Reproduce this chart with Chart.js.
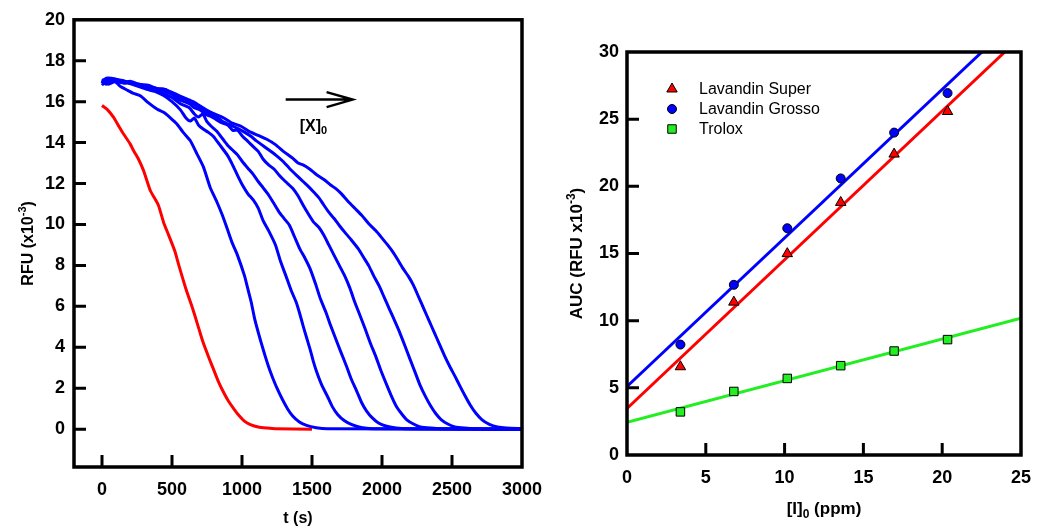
<!DOCTYPE html>
<html>
<head>
<meta charset="utf-8">
<script src="https://cdn.jsdelivr.net/npm/chart.js@4.4.1/dist/chart.umd.min.js"></script>
<style>
  html, body { margin: 0; padding: 0; background: #fff; }
  #wrap { position: relative; width: 1043px; height: 526px; overflow: hidden; }
  canvas { position: absolute; top: 0; }
  #kinetics { left: 0; }
  #auc { left: 540px; }
</style>
</head>
<body>
<div id="wrap">
  <canvas id="kinetics" width="560" height="526"></canvas>
  <canvas id="auc" width="503" height="526"></canvas>
</div>
<script>
// ---- fluorescence decay curves, t (s) vs RFU (x10^-3) ----
const timeTicks = [0, 500, 1000, 1500, 2000, 2500, 3000];
const rfuTicks = [0, 2, 4, 6, 8, 10, 12, 14, 16, 18, 20];

const blankCurve = [[0,15.81],[40,15.6],[83,15.23],[120,14.8],[154,14.42],[200,13.95],[226,13.6],[260,13.2],[297,12.63],[345,11.66],[402,10.95],[440,10.1],[476,9.48],[520,8.7],[549,8.0],[599,6.86],[648,5.88],[690,4.95],[722,4.24],[760,3.55],[796,2.93],[833,2.3],[870,1.78],[905,1.35],[944,0.97],[980,0.65],[1017,0.39],[1060,0.22],[1116,0.1],[1180,0.05],[1239,0.02],[1500,0]];

const sampleCurve1 = [[0,16.9],[20,17.1],[50,16.9],[90,17.0],[130,16.75],[178,16.57],[225,16.4],[273,16.29],[330,15.95],[392,15.64],[440,15.48],[490,15.2],[535,14.91],[580,14.5],[630,14.1],[678,13.45],[725,12.8],[772,11.82],[820,11.11],[860,10.45],[894,9.8],[930,9.1],[968,8.49],[1017,7.51],[1040,6.9],[1066,6.2],[1090,5.4],[1116,4.73],[1140,4.15],[1165,3.58],[1190,3.05],[1214,2.6],[1250,2.0],[1288,1.46],[1325,1.0],[1362,0.64],[1410,0.35],[1461,0.18],[1530,0.07],[1609,0.02],[3000,0]];

const sampleCurve2 = [[0,17.0],[30,16.85],[60,17.05],[130,16.95],[190,16.9],[254,16.76],[320,16.6],[377,16.5],[440,16.3],[500,16.0],[560,15.6],[600,15.2],[630,15.05],[660,15.2],[690,14.85],[725,14.65],[760,14.5],[796,14.3],[840,13.9],[894,13.4],[930,12.95],[968,12.4],[1005,11.9],[1042,11.5],[1080,11.2],[1116,10.8],[1150,10.2],[1190,9.7],[1239,9.0],[1275,8.2],[1313,7.5],[1350,6.8],[1387,6.2],[1410,5.7],[1436,5.06],[1460,4.5],[1486,3.91],[1510,3.3],[1535,2.77],[1570,2.15],[1609,1.62],[1645,1.1],[1683,0.72],[1730,0.42],[1781,0.23],[1850,0.08],[1929,0.02],[3000,0]];

const sampleCurve3 = [[0,17.1],[35,16.9],[70,17.1],[130,17.05],[190,16.95],[254,16.8],[320,16.75],[377,16.6],[440,16.4],[500,16.2],[560,15.9],[623,15.7],[660,15.4],[690,15.25],[720,15.4],[747,15.05],[780,14.8],[820,14.55],[860,14.2],[894,13.9],[930,13.65],[968,13.4],[1005,13.05],[1042,12.75],[1080,12.45],[1116,12.1],[1150,11.8],[1190,11.44],[1230,11.0],[1264,10.62],[1300,10.3],[1338,9.97],[1375,9.4],[1412,8.82],[1450,8.35],[1486,7.84],[1525,7.1],[1560,6.37],[1600,5.7],[1633,5.06],[1670,4.4],[1707,3.75],[1745,3.1],[1781,2.44],[1820,1.85],[1855,1.29],[1890,0.88],[1929,0.56],[1975,0.3],[2027,0.15],[2100,0.06],[2175,0.02],[3000,0]];

const sampleCurve4 = [[0,16.8],[40,17.1],[80,17.0],[140,17.05],[200,16.9],[265,16.85],[330,16.7],[390,16.65],[450,16.5],[500,16.35],[550,16.1],[623,15.9],[660,15.7],[700,15.6],[735,15.4],[770,15.3],[810,15.15],[845,15.0],[900,14.85],[935,14.6],[968,14.6],[1005,14.3],[1042,14.06],[1080,13.8],[1116,13.57],[1150,13.2],[1190,12.91],[1230,12.7],[1264,12.42],[1310,12.1],[1362,11.77],[1400,11.4],[1436,10.95],[1475,10.5],[1510,10.13],[1550,9.85],[1584,9.48],[1620,9.0],[1658,8.49],[1695,8.0],[1732,7.51],[1770,6.9],[1806,6.2],[1843,5.55],[1880,4.89],[1917,4.2],[1954,3.58],[1990,2.9],[2027,2.27],[2065,1.65],[2101,1.13],[2140,0.75],[2175,0.47],[2225,0.25],[2274,0.11],[2350,0.05],[2422,0.02],[3000,0]];

const sampleCurve5 = [[0,17.0],[45,16.85],[100,17.0],[160,16.9],[200,16.95],[265,16.8],[330,16.7],[390,16.6],[450,16.6],[500,16.4],[550,16.2],[600,16.1],[650,15.9],[710,15.65],[770,15.4],[820,15.25],[870,15.0],[920,14.85],[968,14.7],[1020,14.5],[1066,14.3],[1100,14.1],[1140,13.9],[1190,13.65],[1239,13.4],[1290,13.1],[1338,12.75],[1390,12.4],[1436,12.1],[1475,11.85],[1510,11.6],[1550,11.3],[1584,10.95],[1620,10.6],[1658,10.29],[1695,9.95],[1732,9.64],[1780,9.25],[1830,8.82],[1868,8.4],[1904,8.0],[1940,7.5],[1978,7.02],[2015,6.45],[2052,5.88],[2090,5.3],[2126,4.73],[2165,4.05],[2200,3.42],[2238,2.75],[2274,2.11],[2310,1.6],[2348,1.13],[2385,0.75],[2422,0.47],[2470,0.25],[2520,0.11],[2590,0.05],[2668,0.02],[3000,0]];

const sampleCurve6 = [[0,16.9],[30,17.15],[100,17.1],[160,16.95],[200,17.0],[265,16.85],[330,16.8],[390,16.65],[450,16.6],[500,16.45],[550,16.3],[600,16.15],[650,16.0],[710,15.75],[770,15.5],[820,15.35],[870,15.2],[930,14.95],[993,14.8],[1050,14.55],[1116,14.35],[1180,14.15],[1239,13.9],[1300,13.55],[1362,13.24],[1400,13.0],[1436,12.91],[1485,12.7],[1535,12.42],[1585,12.2],[1633,11.93],[1670,11.75],[1707,11.52],[1755,11.15],[1806,10.79],[1855,10.45],[1904,10.05],[1955,9.7],[2003,9.31],[2040,9.0],[2077,8.66],[2115,8.25],[2151,7.84],[2190,7.45],[2225,7.02],[2262,6.45],[2299,5.88],[2336,5.3],[2373,4.73],[2410,4.15],[2447,3.58],[2485,3.05],[2520,2.6],[2557,2.1],[2594,1.62],[2630,1.18],[2668,0.8],[2715,0.45],[2767,0.23],[2825,0.1],[2890,0.05],[3000,0.02]];

const sampleCurves = [sampleCurve1, sampleCurve2, sampleCurve3, sampleCurve4, sampleCurve5, sampleCurve6];

// ---- area under curve vs concentration ----
const concentrations = [3.39, 6.78, 10.17, 13.56, 16.95, 20.34];
const aucSuper = [6.57, 11.38, 14.99, 18.8, 22.4, 25.57];
const aucGrosso = [8.22, 12.67, 16.88, 20.59, 24.0, 26.94];
const aucTrolox = [3.21, 4.73, 5.70, 6.65, 7.74, 8.59];
// regression lines, drawn between their end points
const fitSuper = [[0, 3.46], [23.97, 30]];
const fitGrosso = [[0, 5.1], [22.52, 30]];
const fitTrolox = [[0, 2.44], [25, 10.18]];
const seriesNames = ['Lavandin Super', 'Lavandin Grosso', 'Trolox'];
const ppmTicks = [0, 5, 10, 15, 20, 25];
const aucTicks = [0, 5, 10, 15, 20, 25, 30];

const FONT = '"Liberation Sans", Arial, Helvetica, sans-serif';
const RED = '#ff0000';
const BLUE = '#0000ff';
const GREEN = '#22ee22';

const toXY = pts => pts.map(([x, y]) => ({ x, y }));

function fixedTicks(values) {
  return scale => { scale.ticks = values.map(v => ({ value: v })); };
}

function axis(min, max, ticks, size, pad, horizontal) {
  return {
    type: 'linear',
    min, max,
    afterBuildTicks: fixedTicks(ticks),
    afterFit: s => { if (horizontal) s.height = size; else s.width = size; },
    grid: { display: false, drawTicks: false },
    border: { display: false },
    ticks: {
      font: { family: FONT, size: 18, weight: 'bold' },
      color: '#000',
      padding: pad,
      maxRotation: 0,
      autoSkip: false,
      callback: v => String(v)
    }
  };
}

// text pieces with sub/superscripts, centred on (cx, cy)
function richText(ctx, parts, cx, cy, angle, size) {
  const small = Math.round(size * 0.68);
  ctx.save();
  ctx.translate(cx, cy);
  ctx.rotate(angle);
  ctx.fillStyle = '#000';
  ctx.textBaseline = 'alphabetic';
  const fontOf = p => `bold ${p.sup || p.sub ? small : size}px ${FONT}`;
  const widths = parts.map(p => { ctx.font = fontOf(p); return ctx.measureText(p.text).width; });
  let x = -widths.reduce((a, b) => a + b, 0) / 2;
  const base = size * 0.36;
  parts.forEach((p, i) => {
    ctx.font = fontOf(p);
    let dy = base;
    if (p.sup) dy = base - size * 0.42;
    if (p.sub) dy = base + size * 0.22;
    ctx.fillText(p.text, x, dy);
    x += widths[i];
  });
  ctx.restore();
}

// box round the plot with inward tick marks, plus axis titles
const framePlugin = {
  id: 'frame',
  afterDraw(chart, args, opts) {
    const { ctx, chartArea: a, scales: { x, y } } = chart;
    ctx.save();
    ctx.strokeStyle = '#000';
    ctx.lineWidth = 3;
    ctx.beginPath();
    opts.xMarks.forEach(v => {
      const px = x.getPixelForValue(v);
      ctx.moveTo(px, a.bottom);
      ctx.lineTo(px, a.bottom - 12);
    });
    opts.yMarks.forEach(v => {
      const py = y.getPixelForValue(v);
      ctx.moveTo(a.left, py);
      ctx.lineTo(a.left + 12, py);
    });
    ctx.stroke();
    ctx.lineWidth = 3.5;
    ctx.strokeRect(a.left, a.top, a.right - a.left, a.bottom - a.top);
    ctx.restore();
    const midX = (a.left + a.right) / 2;
    const midY = (a.top + a.bottom) / 2;
    richText(ctx, opts.xTitle, midX, opts.xTitleY, 0, opts.titleSize);
    richText(ctx, opts.yTitle, opts.yTitleX, midY, -Math.PI / 2, opts.titleSize);
  }
};

// arrow marking increasing concentration
const arrowPlugin = {
  id: 'arrow',
  afterDraw(chart, args, opts) {
    if (!opts.from) return;
    const { ctx, scales: { x, y } } = chart;
    const x0 = x.getPixelForValue(opts.from[0]);
    const y0 = y.getPixelForValue(opts.from[1]);
    const x1 = x.getPixelForValue(opts.to[0]);
    ctx.save();
    ctx.strokeStyle = '#000';
    ctx.lineWidth = 2.5;
    ctx.beginPath();
    ctx.moveTo(x0, y0);
    ctx.lineTo(x1, y0);
    ctx.moveTo(x1 - 26, y0 - 7.5);
    ctx.lineTo(x1, y0);
    ctx.lineTo(x1 - 26, y0 + 7.5);
    ctx.stroke();
    ctx.restore();
    const tx = x.getPixelForValue(opts.label[0]);
    const ty = y.getPixelForValue(opts.label[1]);
    richText(ctx, [{ text: '[X]' }, { text: '0', sub: true }], tx, ty, 0, 16);
  }
};

// legend set inside the plot area
const keyPlugin = {
  id: 'key',
  afterDraw(chart, args, opts) {
    if (!opts.entries) return;
    const { ctx, chartArea: a } = chart;
    ctx.save();
    opts.entries.forEach((e, i) => {
      const ds = chart.data.datasets[e];
      const mx = a.left + opts.dx;
      const my = a.top + opts.dy + i * opts.step;
      ctx.fillStyle = ds.pointBackgroundColor;
      ctx.strokeStyle = '#000';
      ctx.lineWidth = 1;
      Chart.helpers.drawPoint(ctx, { pointStyle: ds.pointStyle, radius: ds.pointRadius, rotation: 0, borderWidth: 1 }, mx, my);
      ctx.fillStyle = '#000';
      ctx.font = `16px ${FONT}`;
      ctx.textBaseline = 'middle';
      ctx.fillText(ds.label, mx + 27, my + 1);
    });
    ctx.restore();
  }
};

Chart.register(framePlugin, arrowPlugin, keyPlugin);

const curveDatasets = sampleCurves.map((c, i) => ({
  label: 'sample ' + (i + 1),
  data: toXY(c),
  borderColor: BLUE,
  borderWidth: 3,
  pointRadius: 0,
  showLine: true,
  tension: 0.2,
  order: 0
}));
curveDatasets.push({
  label: 'blank',
  data: toXY(blankCurve),
  borderColor: RED,
  borderWidth: 3,
  pointRadius: 0,
  showLine: true,
  tension: 0.2,
  order: 1
});

new Chart(document.getElementById('kinetics'), {
  type: 'scatter',
  data: { datasets: curveDatasets },
  options: {
    responsive: false,
    animation: false,
    devicePixelRatio: 1,
    layout: { padding: { top: 19, right: 38, left: 0, bottom: 0 } },
    scales: {
      x: axis(-200, 3000, timeTicks, 59, 12, true),
      y: axis(-1.85, 20, rfuTicks, 74, 9, false)
    },
    plugins: {
      legend: { display: false },
      tooltip: { enabled: false },
      frame: {
        xMarks: [0, 500, 1000, 1500, 2000, 2500],
        yMarks: [0, 2, 4, 6, 8, 10, 12, 14, 16, 18],
        xTitle: [{ text: 't (s)' }],
        xTitleY: 517,
        yTitle: [{ text: 'RFU (x10' }, { text: '-3', sup: true }, { text: ')' }],
        yTitleX: 27,
        titleSize: 16
      },
      arrow: { from: [1312, 16.1], to: [1790, 16.1], label: [1510, 14.85] }
    }
  }
});

function markerSet(label, values, color, style, radius) {
  return {
    label,
    data: concentrations.map((c, i) => ({ x: c, y: values[i] })),
    pointStyle: style,
    pointRadius: radius,
    pointBackgroundColor: color,
    pointBorderColor: '#000',
    pointBorderWidth: 1,
    showLine: false,
    order: 0
  };
}

function fitLine(points, color) {
  return {
    label: 'fit',
    data: toXY(points),
    borderColor: color,
    borderWidth: 3,
    pointRadius: 0,
    showLine: true,
    order: 1
  };
}

new Chart(document.getElementById('auc'), {
  type: 'scatter',
  data: {
    datasets: [
      markerSet(seriesNames[0], aucSuper, RED, 'triangle', 6),
      markerSet(seriesNames[1], aucGrosso, BLUE, 'circle', 4.5),
      markerSet(seriesNames[2], aucTrolox, GREEN, 'rect', 6),
      fitLine(fitSuper, RED),
      fitLine(fitGrosso, BLUE),
      fitLine(fitTrolox, GREEN)
    ]
  },
  options: {
    responsive: false,
    animation: false,
    devicePixelRatio: 1,
    layout: { padding: { top: 52, right: 12, left: 0, bottom: 0 } },
    scales: {
      x: axis(0, 25, ppmTicks, 71, 12, true),
      y: axis(0, 30, aucTicks, 87, 8, false)
    },
    plugins: {
      legend: { display: false },
      tooltip: { enabled: false },
      frame: {
        xMarks: [5, 10, 15, 20],
        yMarks: [5, 10, 15, 20, 25],
        xTitle: [{ text: '[I]' }, { text: '0', sub: true }, { text: ' (ppm)' }],
        xTitleY: 508,
        yTitle: [{ text: 'AUC (RFU x10' }, { text: '-3', sup: true }, { text: ')' }],
        yTitleX: 36,
        titleSize: 17
      },
      key: { entries: [0, 1, 2], dx: 45, dy: 37, step: 20 }
    }
  }
});
</script>
</body>
</html>
